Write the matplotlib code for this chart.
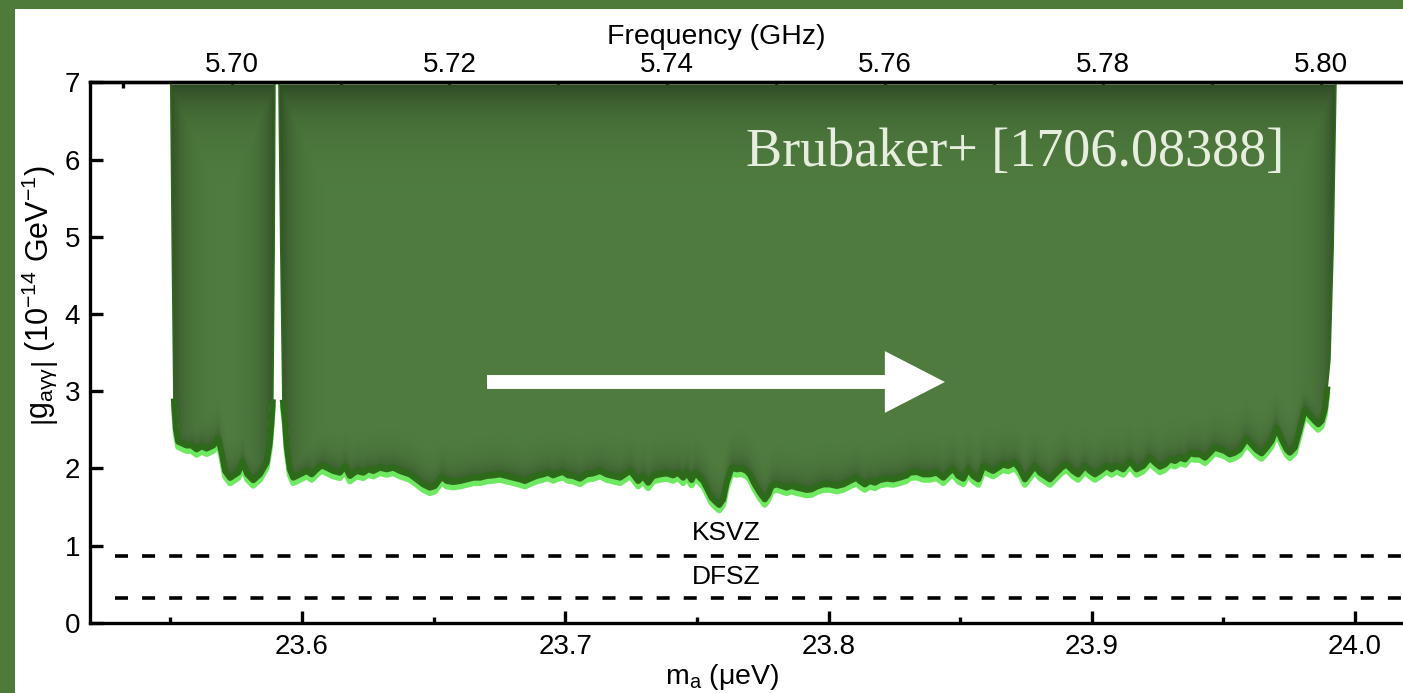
import numpy as np
import matplotlib
matplotlib.use("Agg")
import matplotlib.pyplot as plt
from matplotlib.patches import Rectangle
from matplotlib.ticker import MultipleLocator, FormatStrFormatter, FixedLocator

plt.rcParams['font.family'] = ['Liberation Sans', 'DejaVu Sans']
plt.rcParams['mathtext.fontset'] = 'custom'
plt.rcParams['mathtext.rm'] = 'Liberation Sans'
plt.rcParams['mathtext.it'] = 'Liberation Sans:italic'
plt.rcParams['mathtext.bf'] = 'Liberation Sans:bold'

# ---------------- data (m_a in micro-eV, |g| in 1e-14 GeV^-1) ----------------
m1 = [23.5502, 23.5508, 23.5514, 23.5521, 23.5530, 23.5562, 23.5581, 23.5600, 23.5619,
      23.5638, 23.5663, 23.5682, 23.5695, 23.5708, 23.5727, 23.5758, 23.5775, 23.5792,
      23.5815, 23.5841, 23.5866, 23.5878, 23.5885, 23.5889, 23.5894, 23.5897]
g1 = [7.0, 4.8, 2.9, 2.55, 2.38, 2.33, 2.33, 2.28, 2.32, 2.29, 2.33, 2.42, 2.24, 2.00,
      1.91, 1.98, 2.12, 1.96, 1.88, 1.96, 2.11, 2.37, 2.67, 2.89, 4.83, 7.0]

m2 = [23.5913, 23.5920, 23.5928, 23.5935, 23.5942, 23.5954, 23.5967, 23.5992, 23.6018,
      23.6037, 23.6056, 23.6075, 23.6094, 23.6119, 23.6144, 23.6163, 23.6182, 23.6208,
      23.6233, 23.6252, 23.6271, 23.6296, 23.6322, 23.6347, 23.6372, 23.6410, 23.6436,
      23.6461, 23.6486, 23.6505, 23.6531, 23.6550, 23.6575, 23.6600, 23.6626, 23.6651,
      23.6676, 23.6701, 23.6727, 23.6752, 23.6777, 23.6802, 23.6828, 23.6847, 23.6866,
      23.6891, 23.6916, 23.6935, 23.6954, 23.6973, 23.6992, 23.7011, 23.7030, 23.7056,
      23.7081, 23.7106, 23.7132, 23.7157, 23.7182, 23.7208, 23.7227, 23.7246, 23.7258,
      23.7277, 23.7296, 23.7315, 23.7334, 23.7360, 23.7385, 23.7410, 23.7429, 23.7448,
      23.7461, 23.7480, 23.7493, 23.7512, 23.7524, 23.7537, 23.7556, 23.7575, 23.7585,
      23.7600, 23.7613, 23.7632, 23.7651, 23.7670, 23.7689, 23.7701, 23.7720, 23.7739,
      23.7758, 23.7771, 23.7784, 23.7803, 23.7822, 23.7841, 23.7860, 23.7879, 23.7898,
      23.7917, 23.7936, 23.7955, 23.7980, 23.8005, 23.8031, 23.8056, 23.8081, 23.8107,
      23.8119, 23.8138, 23.8157, 23.8176, 23.8195, 23.8221, 23.8246, 23.8271, 23.8297,
      23.8309, 23.8335, 23.8360, 23.8385, 23.8411, 23.8436, 23.8455, 23.8474, 23.8493,
      23.8512, 23.8531, 23.8550, 23.8569, 23.8588, 23.8607, 23.8625, 23.8644, 23.8663,
      23.8682, 23.8708, 23.8727, 23.8746, 23.8765, 23.8784, 23.8803, 23.8822, 23.8841,
      23.8866, 23.8885, 23.8904, 23.8929, 23.8948, 23.8974, 23.8993, 23.9012, 23.9037,
      23.9056, 23.9075, 23.9094, 23.9119, 23.9145, 23.9170, 23.9195, 23.9221, 23.9240,
      23.9259, 23.9278, 23.9297, 23.9316, 23.9335, 23.9354, 23.9373, 23.9392, 23.9411,
      23.9430, 23.9449, 23.9467, 23.9486, 23.9505, 23.9524, 23.9543, 23.9562, 23.9588,
      23.9607, 23.9626, 23.9645, 23.9664, 23.9683, 23.9702, 23.9721, 23.9740, 23.9752,
      23.9771, 23.9790, 23.9809, 23.9828, 23.9847, 23.9860, 23.9873, 23.9885, 23.9894,
      23.9900, 23.9904, 23.9916, 23.9927]
g2 = [7.0, 4.83, 2.885, 2.668, 2.324, 2.021, 1.913, 1.956, 2.000,
      1.956, 2.021, 2.072, 2.043, 2.000, 1.978, 2.065, 1.935, 2.000,
      1.978, 2.021, 2.000, 2.043, 2.021, 2.043, 2.000, 1.956, 1.891,
      1.826, 1.784, 1.806, 1.926, 1.870, 1.857, 1.870, 1.891, 1.913,
      1.913, 1.935, 1.943, 1.956, 1.935, 1.913, 1.891, 1.870, 1.900,
      1.935, 1.956, 1.978, 1.943, 1.969, 1.987, 1.943, 1.935, 1.900,
      1.956, 1.969, 2.000, 1.956, 1.935, 1.913, 1.956, 2.000, 1.956,
      1.870, 1.935, 1.848, 1.935, 1.956, 1.969, 1.943, 1.978, 1.913,
      1.987, 1.883, 1.978, 1.913, 1.870, 1.784, 1.654, 1.589, 1.560,
      1.632, 1.848, 2.043, 2.021, 2.030, 2.000, 1.956, 1.826, 1.719,
      1.632, 1.697, 1.806, 1.826, 1.806, 1.784, 1.806, 1.784, 1.771,
      1.754, 1.762, 1.797, 1.826, 1.826, 1.806, 1.826, 1.870, 1.913,
      1.870, 1.826, 1.870, 1.848, 1.883, 1.900, 1.891, 1.913, 1.943,
      1.978, 1.987, 1.956, 1.956, 1.978, 1.913, 1.978, 2.030, 1.935,
      1.900, 2.030, 1.935, 1.891, 2.065, 2.030, 2.000, 2.043, 2.085,
      2.065, 2.107, 2.021, 1.891, 1.978, 2.065, 1.978, 1.935, 1.891,
      1.978, 2.043, 2.085, 2.000, 1.956, 2.065, 2.000, 1.956, 2.013,
      2.065, 2.021, 2.065, 2.021, 2.129, 2.021, 2.065, 2.172, 2.107,
      2.054, 2.085, 2.150, 2.129, 2.172, 2.150, 2.228, 2.215, 2.215,
      2.172, 2.237, 2.302, 2.280, 2.259, 2.215, 2.237, 2.280, 2.418,
      2.345, 2.272, 2.228, 2.302, 2.389, 2.561, 2.409, 2.280, 2.237,
      2.302, 2.539, 2.798, 2.720, 2.648, 2.604, 2.648, 2.798, 3.057,
      3.273, 3.403, 4.828, 7.0]

ksvz_level = 0.868
dfsz_level = 0.324
model_line_start = 23.529
ksvz_label_pos = (23.761, 1.162)
dfsz_label_pos = (23.761, 0.596)
arrow_tail, arrow_tip, arrow_y = 23.6703, 23.8442, 3.118
ref_text = "Brubaker+ [1706.08388]"
ref_pos = (23.8708, 5.916)
ueV_per_GHz = 4.135667
freq_major = [5.70, 5.72, 5.74, 5.76, 5.78, 5.80]
freq_minor = [5.69, 5.71, 5.73, 5.75, 5.77, 5.79]

xlim = (23.5195, 24.0182)
ylim = (0, 7)

# ---------------- styling ----------------
BG = '#4e7a3a'
FILL_C = np.array([0x50, 0x7d, 0x3f]) / 255.0
FILL_E = np.array([0x27, 0x40, 0x1f]) / 255.0
DARK = '#2d6a1a'
LIGHT = '#6fe862'

fig = plt.figure(figsize=(14.03, 6.93), dpi=100, facecolor=BG)
fig.patches.append(Rectangle((15 / 1403, -0.01), 1.1, 1.01 - 9 / 693,
                             transform=fig.transFigure, facecolor='white',
                             edgecolor='none', zorder=-10))
ax = fig.add_axes([90 / 1403, 0.10144, 1 - 90 / 1403, 0.7798])
ax.set_facecolor('white')

PX_X = 2633.0   # pixels per micro-eV
PX_Y = 77.2     # pixels per unit


def draw_piece(m, g):
    m = np.asarray(m); g = np.asarray(g)
    poly = ax.fill_between(m, g, 6.97, facecolor=FILL_C, edgecolor='none', zorder=1)
    x0, x1 = m[0], m[-1]
    X = np.linspace(x0, x1, 500)
    Y = np.linspace(g.min() - 0.05, 7.0, 500)
    XX, YY = np.meshgrid(X, Y)
    yb = np.interp(XX, m, g)
    d_top = np.clip((7.0 - YY) * PX_Y, 0, None)
    d_bot = np.clip((YY - yb) * PX_Y, 0, None)
    d_side = np.clip(np.minimum(XX - x0, x1 - XX) * PX_X, 0, None)
    k = np.maximum.reduce([np.exp(-d_top / 30.0) * 0.9,
                           np.exp(-d_side / 14.0) * 0.75,
                           np.exp(-d_bot / 14.0) * 0.45])
    rgb = FILL_C[None, None, :] * (1 - k[..., None]) + FILL_E[None, None, :] * k[..., None]
    im = ax.imshow(rgb, extent=(x0, x1, Y[0], 7.0), origin='lower', aspect='auto',
                   interpolation='bilinear', zorder=1.5)
    im.set_clip_path(poly.get_paths()[0], ax.transData)
    gm = np.where(g < 3.2, g, np.nan)
    ax.plot(m, g, color=DARK, lw=1.3, zorder=2.0)
    ax.plot(m, gm - 0.105, color=LIGHT, lw=4.3, solid_joinstyle='round', zorder=2.1)
    ax.plot(m, gm - 0.035, color=DARK, lw=4.3, solid_joinstyle='round', zorder=2.2)


draw_piece(m1, g1)
draw_piece(m2, g2)

# model lines
for lvl in (ksvz_level, dfsz_level):
    ax.hlines(lvl, model_line_start, xlim[1] + 0.05, colors='black', lw=2.6,
              linestyles=(0, (3.6, 3.9)), zorder=3)
ax.text(*ksvz_label_pos, 'KSVZ', fontsize=19, ha='center', va='center', zorder=4)
ax.text(*dfsz_label_pos, 'DFSZ', fontsize=19, ha='center', va='center', zorder=4)

# arrow
ax.arrow(arrow_tail, arrow_y, arrow_tip - arrow_tail, 0, width=0.18, head_width=0.80,
         head_length=0.0228, length_includes_head=True, color='white', ec='none', zorder=4)

# reference text
ax.text(*ref_pos, ref_text, fontsize=39, family='Liberation Serif', color='#e7eddf',
        ha='center', va='baseline', zorder=4)

ax.set_xlim(*xlim)
ax.set_ylim(*ylim)

ax.xaxis.set_major_locator(MultipleLocator(0.1))
ax.xaxis.set_minor_locator(MultipleLocator(0.05))
ax.xaxis.set_major_formatter(FormatStrFormatter('%.1f'))
ax.yaxis.set_major_locator(MultipleLocator(1))
ax.tick_params(axis='x', which='major', direction='in', length=9, width=2.4,
               labelsize=20, pad=8, top=False)
ax.tick_params(axis='x', which='minor', direction='in', length=4.5, width=2.4, top=False)
ax.tick_params(axis='y', which='major', direction='in', length=9, width=2.4,
               labelsize=20, pad=7, right=False)
for s in ('left', 'bottom', 'top'):
    ax.spines[s].set_linewidth(2.4)
ax.spines['right'].set_visible(False)

sec = ax.secondary_xaxis('top', functions=(lambda x: x / ueV_per_GHz,
                                           lambda f: f * ueV_per_GHz))
sec.xaxis.set_major_locator(FixedLocator(freq_major))
sec.xaxis.set_minor_locator(FixedLocator(freq_minor))
sec.xaxis.set_major_formatter(FormatStrFormatter('%.2f'))
sec.tick_params(axis='x', which='major', direction='in', length=9, width=2.4,
                labelsize=20, pad=3)
sec.tick_params(axis='x', which='minor', direction='in', length=4.5, width=2.4)
sec.spines['top'].set_linewidth(2.4)

fig.text(716 / 1403, 1 - 37 / 693, 'Frequency (GHz)', fontsize=20.5, ha='center', va='center')
fig.text(722 / 1403, 1 - 677 / 693, r'm$_\mathrm{a}$ (μeV)', fontsize=20.5,
         ha='center', va='center')
fig.text(40 / 1403, 1 - 296 / 693,
         r'$\left|\mathrm{g}_{\mathrm{aγγ}}\right|$ (10$^{-14}$ GeV$^{-1}$)',
         fontsize=22, rotation=90, ha='center', va='center')

fig.savefig('out.png', dpi=100, facecolor=BG)
